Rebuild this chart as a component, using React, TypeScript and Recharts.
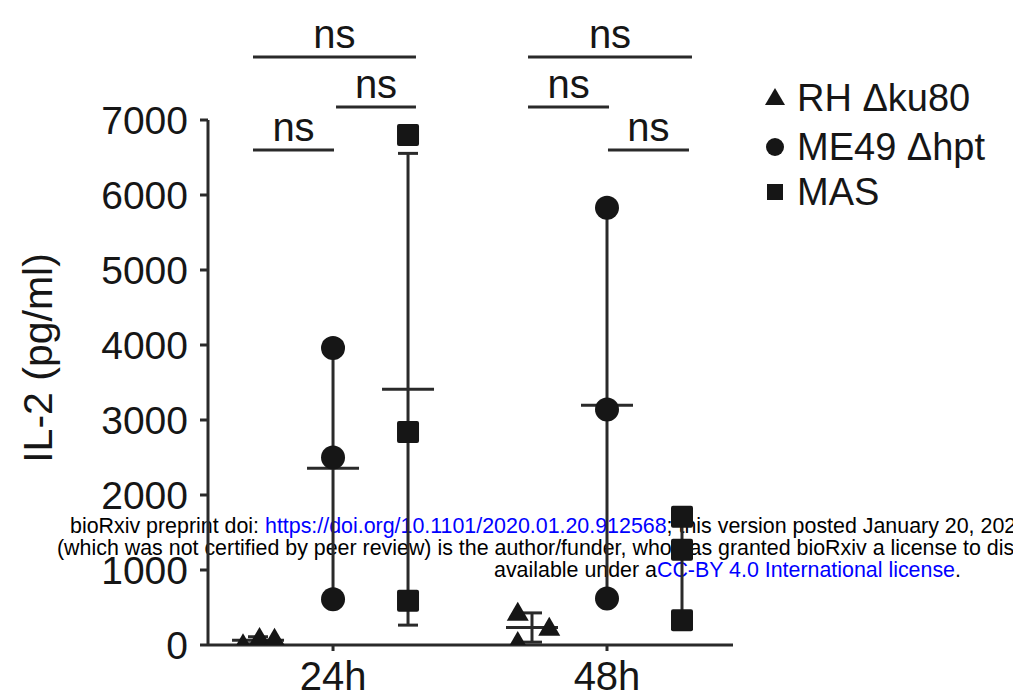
import React from 'react';
import { ScatterChart, Scatter, XAxis, YAxis, ErrorBar, ReferenceLine } from 'recharts';

// ---- data ----
const timepoints = ['24h', '48h'];
const groupCenter = [1.667, 5.32]; // x position (axis units) of each time point
const seriesNames = ['RH Δku80', 'ME49 Δhpt', 'MAS'];
const seriesOffset = [-1, 0, 1];

const rh24 = [10, 95, 85];
const rh48 = [430, 40, 230];
const me24 = [3960, 2500, 610];
const me48 = [5830, 3140, 620];
const mas24 = [6800, 2840, 590];
const mas48 = [1710, 1270, 330];

const rhJitter24 = [-0.2, 0.02, 0.22];
const rhJitter48 = [-0.19, -0.19, 0.23];
const noJitter = [0, 0, 0];

const means24 = [63, 2357, 3410];
const means48 = [233, 3197, 1103];
const sd24 = [47, 1680, 3145];
const sd48 = [195, 2606, 705];
const meanShown24 = [true, true, true];
const meanShown48 = [true, true, false];

const yTicks = [0, 1000, 2000, 3000, 4000, 5000, 6000, 7000];

// significance brackets: [x1, x2, y]
const bracketX1 = [0.6, 1.707, 0.6, 4.267, 4.267, 5.333];
const bracketX2 = [2.773, 2.773, 1.68, 6.453, 5.347, 6.413];
const bracketY = [7840, 7173, 6600, 7840, 7173, 6600];
const bracketLabel = ['ns', 'ns', 'ns', 'ns', 'ns', 'ns'];

// ---- build series ----
const raw = [
  [rh24, rh48],
  [me24, me48],
  [mas24, mas48],
];
const jitter = [
  [rhJitter24, rhJitter48],
  [noJitter, noJitter],
  [noJitter, noJitter],
];
const pointData = raw.map((byGroup, s) =>
  byGroup.flatMap((vals, g) =>
    vals.map((v, i) => ({ x: groupCenter[g] + seriesOffset[s] + jitter[s][g][i], y: v }))
  )
);
const summaryData = [0, 1, 2].flatMap((s) => [
  { x: groupCenter[0] + seriesOffset[s], y: means24[s], err: sd24[s], show: meanShown24[s] },
  { x: groupCenter[1] + seriesOffset[s], y: means48[s], err: sd48[s], show: meanShown48[s] },
]);
const brackets = bracketX1.map((x1, i) => ({ x1, x2: bracketX2[i], y: bracketY[i], label: bracketLabel[i] }));

const FONT = '"Liberation Sans", Arial, Helvetica, sans-serif';
const INK = '#161616';
const LINE = '#2a2a2a';

const Tri = (p: any) => (
  <path d={`M${p.cx},${p.cy - 11} L${p.cx + 11},${p.cy + 8} L${p.cx - 11},${p.cy + 8} Z`} fill={INK} />
);
const Circ = (p: any) => <circle cx={p.cx} cy={p.cy} r={12} fill={INK} />;
const Sq = (p: any) => <rect x={p.cx - 11} y={p.cy - 11} width={22} height={22} rx={2} fill={INK} />;
const shapes = [Tri, Circ, Sq];

const MeanLine = (p: any) =>
  p.payload && p.payload.show ? (
    <line x1={p.cx - 26} x2={p.cx + 26} y1={p.cy} y2={p.cy} stroke={LINE} strokeWidth={3} />
  ) : (
    <g />
  );

const Watermark = () => (
  <svg width={1013} height={697} style={{ position: 'absolute', left: 0, top: 0 }}>
    <g fontFamily={FONT} fontSize={21.4} fill="#000">
      <text x={70} y={533}>
        <tspan>bioRxiv preprint doi: </tspan>
        <tspan fill="#0000ff">https://doi.org/10.1101/2020.01.20.912568</tspan>
        <tspan>; this version posted January 20, 202</tspan>
      </text>
      <text x={57} y={555}>
        (which was not certified by peer review) is the author/funder, who has granted bioRxiv a license to dis
      </text>
      <text x={494} y={577}>
        <tspan>available under a</tspan>
        <tspan fill="#0000ff">CC-BY 4.0 International license</tspan>
        <tspan>.</tspan>
      </text>
    </g>
  </svg>
);

const legendY = [97, 146, 191];
const LegendBox = () => (
  <svg width={1013} height={697} style={{ position: 'absolute', left: 0, top: 0, pointerEvents: 'none' }}>
    {seriesNames.map((name, i) => {
      const cy = legendY[i];
      const cx = 775;
      const marker =
        i === 0 ? (
          <path d={`M${cx},${cy - 9} L${cx + 10},${cy + 8} L${cx - 10},${cy + 8} Z`} fill={INK} />
        ) : i === 1 ? (
          <circle cx={cx} cy={cy + 1} r={9} fill={INK} />
        ) : (
          <rect x={cx - 8} y={cy - 7} width={16} height={16} fill={INK} />
        );
      return (
        <g key={name}>
          {marker}
          <text x={797} y={cy + 14} fontFamily={FONT} fontSize={38} fill={INK}>
            {name}
          </text>
        </g>
      );
    })}
  </svg>
);

export default function App() {
  return (
    <div style={{ position: 'absolute', left: 0, top: 0, width: 1013, height: 697, background: '#fff' }}>
      <Watermark />
      <div style={{ position: 'absolute', left: 0, top: 0 }}>
        <ScatterChart width={1013} height={697} margin={{ top: 120, right: 280, bottom: 0, left: 108 }}>
          <XAxis
            type="number"
            dataKey="x"
            domain={[0, 7]}
            ticks={groupCenter}
            tickFormatter={(v: number) => timepoints[groupCenter.indexOf(v)] ?? ''}
            height={52}
            stroke={LINE}
            strokeWidth={3}
            tickSize={6}
            tickMargin={11}
            tick={{ fontSize: 40, fontFamily: FONT, fill: INK }}
            allowDataOverflow
          />
          <YAxis
            type="number"
            dataKey="y"
            domain={[0, 7000]}
            ticks={yTicks}
            width={100}
            stroke={LINE}
            strokeWidth={3}
            tickSize={8}
            tickMargin={12}
            tick={{ fontSize: 39, fontFamily: FONT, fill: INK }}
            allowDataOverflow
            label={{
              content: () => (
                <text
                  transform="translate(38,358) rotate(-90)"
                  textAnchor="middle"
                  dy="0.35em"
                  fontSize={41}
                  fontFamily={FONT}
                  fill={INK}
                >
                  IL-2 (pg/ml)
                </text>
              ),
            }}
          />
          {brackets.map((b, i) => (
            <ReferenceLine
              key={i}
              segment={[
                { x: b.x1, y: b.y },
                { x: b.x2, y: b.y },
              ]}
              ifOverflow="visible"
              stroke={LINE}
              strokeWidth={3}
              label={(p: any) => (
                <text
                  x={p.viewBox.x + p.viewBox.width / 2}
                  y={p.viewBox.y - 9}
                  textAnchor="middle"
                  fontSize={40}
                  fontFamily={FONT}
                  fill={INK}
                >
                  {b.label}
                </text>
              )}
            />
          ))}
          <Scatter data={summaryData} shape={MeanLine} isAnimationActive={false}>
            <ErrorBar dataKey="err" direction="y" width={10} stroke={LINE} strokeWidth={3} />
          </Scatter>
          {pointData.map((d, s) => (
            <Scatter key={s} name={seriesNames[s]} data={d} shape={shapes[s]} isAnimationActive={false} />
          ))}
        </ScatterChart>
      </div>
      <LegendBox />
    </div>
  );
}
